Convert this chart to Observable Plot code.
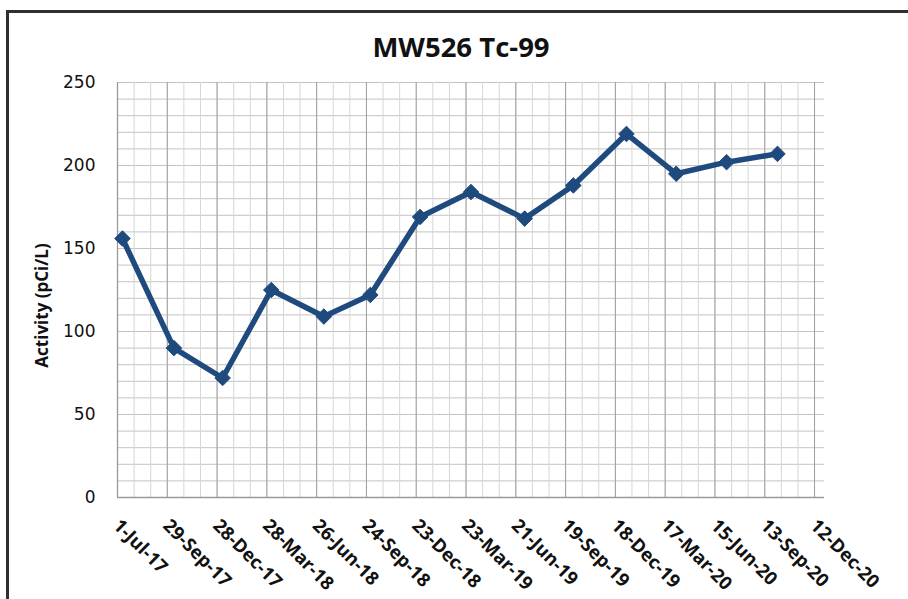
<!DOCTYPE html>
<html>
<head>
<meta charset="utf-8">
<script src="https://cdn.jsdelivr.net/npm/d3@7"></script>
<script src="https://cdn.jsdelivr.net/npm/@observablehq/plot@0.6"></script>
<style>
  html, body { margin: 0; padding: 0; background: #fff; overflow: hidden; }
  #wrap { position: relative; width: 908px; height: 599px; }
  #frame { position: absolute; left: 6px; top: 10px; width: 1000px; height: 700px;
           border: 3px solid #303030; box-sizing: border-box; pointer-events: none; }
  #chart { position: absolute; left: 0; top: 0; }
</style>
</head>
<body>
<div id="wrap"><div id="chart"></div><div id="frame"></div></div>
<script>
// ---- data ----
const title = "MW526 Tc-99";
const yLabel = "Activity (pCi/L)";
const sampleDates = ["2017-07-10", "2017-10-11", "2018-01-07", "2018-04-05", "2018-07-09",
  "2018-10-01", "2018-12-30", "2019-04-01", "2019-07-07", "2019-10-03",
  "2020-01-07", "2020-04-06", "2020-07-06", "2020-10-06"];
const activity = [156, 90, 72, 125, 109, 122, 169, 184, 168, 188, 219, 195, 202, 207];
const xTickLabels = ["1-Jul-17", "29-Sep-17", "28-Dec-17", "28-Mar-18", "26-Jun-18",
  "24-Sep-18", "23-Dec-18", "23-Mar-19", "21-Jun-19", "19-Sep-19", "18-Dec-19",
  "17-Mar-20", "15-Jun-20", "13-Sep-20", "12-Dec-20"];
const yTicks = [0, 50, 100, 150, 200, 250];
const xDomain = ["2017-07-01", "2020-12-30"];

// ---- build ----
const parseTick = d3.utcParse("%d-%b-%y");
const tickDates = xTickLabels.map(parseTick);
const labelOf = new Map(tickDates.map((d, i) => [+d, xTickLabels[i]]));
const data = sampleDates.map((d, i) => ({date: new Date(d + "T00:00:00Z"), value: activity[i]}));
const x0 = new Date(xDomain[0] + "T00:00:00Z"), x1 = new Date(xDomain[1] + "T00:00:00Z");
const minorTicks = d3.utcDay.every(1).range(x0, x1).filter((d, i) => i % 30 === 0);
const hLines = d3.range(10, 251, 10);

const font = "'Open Sans', 'Noto Sans', sans-serif";
const navy = "#1f4a7e";

const chart = Plot.plot({
  width: 908, height: 599,
  marginLeft: 117, marginRight: 84, marginTop: 82, marginBottom: 102,
  style: {fontFamily: font, background: "transparent", overflow: "visible"},
  x: {type: "utc", domain: [x0, x1], axis: null},
  y: {domain: [0, 250], axis: null},
  marks: [
    Plot.ruleY(hLines, {stroke: "#c4c4c4", strokeWidth: 1}),
    Plot.ruleX(minorTicks, {stroke: "#d6d6d6", strokeWidth: 1}),
    Plot.ruleX(tickDates, {stroke: "#9f9f9f", strokeWidth: 1}),
    Plot.ruleY([0], {stroke: "#9a9a9a", strokeWidth: 1.3}),
    Plot.ruleX([x0], {stroke: "#9a9a9a", strokeWidth: 1.3}),
    Plot.line(data, {x: "date", y: "value", stroke: navy, strokeWidth: 5.5, strokeLinejoin: "miter"}),
    Plot.dot(data, {x: "date", y: "value", symbol: "diamond2", r: 7, fill: navy, stroke: navy, strokeWidth: 1}),
    // y tick labels
    Plot.text(yTicks, {x: x0, y: d => d, text: d => String(d), textAnchor: "end", dx: -22,
      fontSize: 17, fontFamily: "'DejaVu Sans', sans-serif", fill: "#111"}),
    // x tick labels
    Plot.text(tickDates, {x: d => d, frameAnchor: "bottom", text: d => labelOf.get(+d),
      rotate: 45, textAnchor: "start", lineAnchor: "middle", dx: -1, dy: 25,
      fontSize: 18.5, fontWeight: "bold", fill: "#111"}),
    // y axis title
    Plot.text([yLabel], {frameAnchor: "left", text: d => d, rotate: -90, textAnchor: "middle",
      dx: -75, dy: 15.5, fontSize: 17, fontWeight: "bold", fill: "#111"}),
    // chart title
    Plot.text([title], {frameAnchor: "top", text: d => d, dx: -10, dy: -45,
      fontSize: 27.5, fontWeight: "bold", fill: "#111"})
  ]
});
document.getElementById("chart").appendChild(chart);
</script>
</body>
</html>
